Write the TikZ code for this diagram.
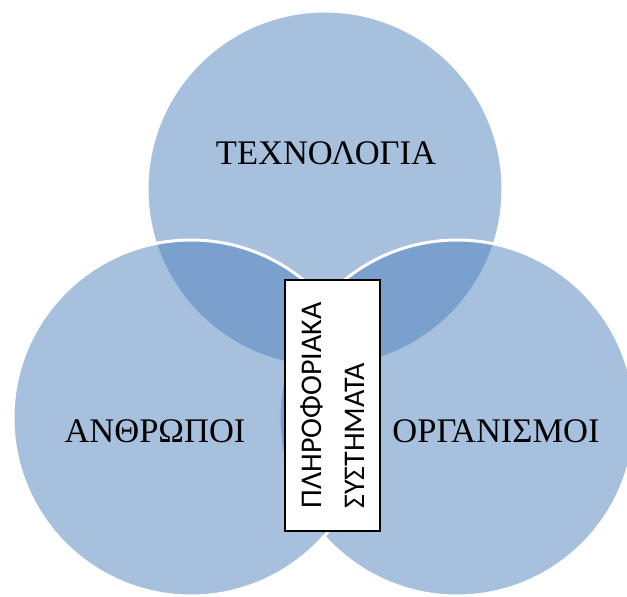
\documentclass[tikz,border=0pt]{standalone}
\usepackage{fontspec}
\setmainfont{Liberation Serif}
\newfontfamily\boxfont{Carlito}
\usetikzlibrary{positioning}
\definecolor{vennblue}{HTML}{4F81BD}
\tikzset{
  venn/.style   ={circle,minimum size=356pt,inner sep=0pt,fill=vennblue,
                  fill opacity=0.5,draw=white,line width=3pt},
  lbl/.style    ={font=\fontsize{34.5}{40}\selectfont,inner sep=0pt},
  sysbox/.style ={draw=black,fill=white,line width=1.2pt,rotate=90,align=left,
                  minimum width=251pt,minimum height=95pt,inner sep=0pt,
                  font=\boxfont\fontsize{30}{43}\selectfont}
}
\begin{document}
\begin{tikzpicture}[x=1pt,y=-1pt]
    \useasboundingbox (0,0) rectangle (627,597);
    \clip (0,0) rectangle (627,597);
    % the three sets
    \node[venn] (tech) at (325,189) {};
    \node[venn] (org)  at (457,418) {};
    \node[venn] (ppl)  at (191,418) {};
    \node[lbl] (techl) at (326,153) {ΤΕΧΝΟΛΟΓΙΑ};
    \node[lbl] (ppll)  at (155,431) {ΑΝΘΡΩΠΟΙ};
    \node[lbl] (orgl)  at (496,431) {ΟΡΓΑΝΙΣΜΟΙ};
    % the overlap in the middle
    \node[sysbox] (is) at (332.5,405.5) {ΠΛΗΡΟΦΟΡΙΑΚΑ\\ΣΥΣΤΗΜΑΤΑ};
\end{tikzpicture}
\end{document}
